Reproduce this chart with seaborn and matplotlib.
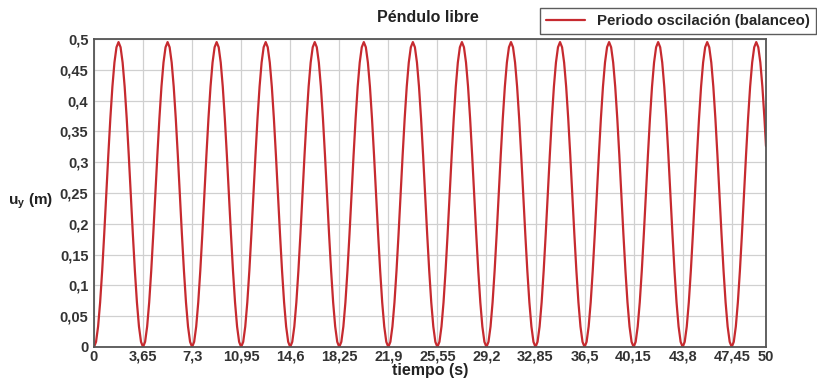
import matplotlib
matplotlib.use("Agg")
import matplotlib.pyplot as plt
import seaborn as sns
import numpy as np
import pandas as pd

# Readings from the picture
trough_times = [0, 3.65, 7.3, 10.95, 14.6, 18.25, 21.9, 25.55, 29.2, 32.85, 36.5, 40.15, 43.8, 47.45]
period = 3.65
# one cycle (trough -> peak -> trough), read at 1/24 period steps
cycle_shape = [0.0, 0.0084, 0.0332, 0.0725, 0.1238, 0.1834, 0.2475, 0.3116, 0.3713,
               0.4225, 0.4618, 0.4866, 0.495, 0.4866, 0.4618, 0.4225, 0.3713, 0.3116,
               0.2475, 0.1834, 0.1238, 0.0725, 0.0332, 0.0084]
end_time = 50.0
end_value = 0.326

xticks = [0, 3.65, 7.3, 10.95, 14.6, 18.25, 21.9, 25.55, 29.2, 32.85, 36.5, 40.15, 43.8, 47.45, 50]
yticks = [0, 0.05, 0.1, 0.15, 0.2, 0.25, 0.3, 0.35, 0.4, 0.45, 0.5]

# assemble samples
ts, us = [], []
n = len(cycle_shape)
for t0 in trough_times:
    for k, v in enumerate(cycle_shape):
        t = t0 + k * period / n
        if t < end_time:
            ts.append(t)
            us.append(v)
ts.append(end_time)
us.append(end_value)
df = pd.DataFrame({"t": ts, "u": us})

sns.set_theme(style="whitegrid")
plt.rcParams["font.family"] = ["Liberation Sans", "DejaVu Sans"]

fig = plt.figure(figsize=(8.17, 3.78), dpi=100)
ax = fig.add_axes([94/817, 31/378, (766-94)/817, (347-39)/378])

sns.lineplot(data=df, x="t", y="u", ax=ax, color="#c62a2f", linewidth=1.6,
             label="Periodo oscilación (balanceo)", sort=False)

ax.set_xlim(0, 50)
ax.set_ylim(0, 0.5)
ax.set_xticks(xticks)
ax.set_xticklabels([f"{v:g}".replace(".", ",") for v in xticks], fontweight="bold", fontsize=10.5, color="#333333")
ax.set_yticks(yticks)
ax.set_yticklabels([f"{v:g}".replace(".", ",") for v in yticks], fontweight="bold", fontsize=10.5, color="#333333")
ax.tick_params(axis="x", length=0, pad=2)
ax.tick_params(axis="y", length=0, pad=4)
ax.grid(True, color="#d0d0d0", linewidth=0.9)
for s in ax.spines.values():
    s.set_visible(True)
    s.set_color("#555555")
    s.set_linewidth(1.3)

ax.set_xlabel("tiempo (s)", fontweight="bold", fontsize=11.5, color="#222222", va="center")
ax.xaxis.set_label_coords((430 - 94) / 672, (347 - 371) / 308)
ax.set_ylabel("u$_\\mathregular{y}$ (m)", fontweight="bold", fontsize=11, rotation=0,
              color="#222222", ha="center", va="center")
ax.yaxis.set_label_coords((31 - 94) / 672, (347 - 201) / 308)

fig.text(428/817, 1 - 18/378, "Péndulo libre", ha="center", va="center",
         fontweight="bold", fontsize=11.5, color="#222222")

ax.get_legend().remove()
leg = fig.legend(loc="upper right", bbox_to_anchor=(816/817, 1 - 8/378),
                 prop={"weight": "bold", "size": 10.8}, frameon=True, fancybox=False,
                 edgecolor="#333333", handlelength=2.6, borderpad=0.4,
                 handletextpad=0.8, borderaxespad=0)
leg.get_frame().set_linewidth(1.0)

fig.savefig("out.png", dpi=100, facecolor="white")
